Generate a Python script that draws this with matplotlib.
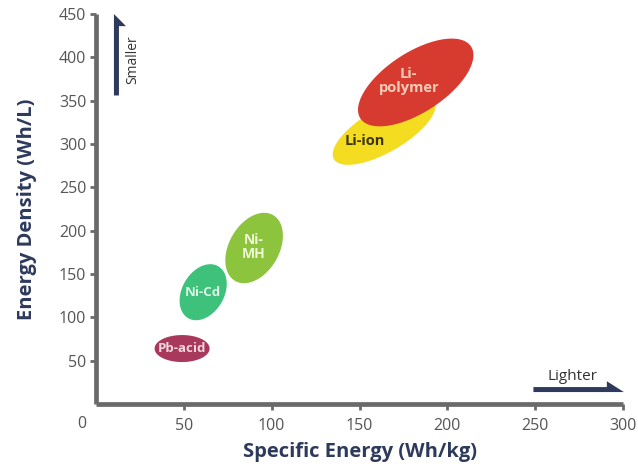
import numpy as np
import matplotlib.pyplot as plt

# battery chemistries: centre (Wh/kg, Wh/L), size in px (major, minor), tilt in degrees
names = ["Pb-acid", "Ni-Cd", "Ni-MH", "Li-ion", "Li-polymer"]
labels = ["Pb-acid", "Ni-Cd", "Ni-\nMH", "Li-ion", "Li-\npolymer"]
spec_energy = [49, 61, 90, 164, 182]
energy_dens = [64, 129, 180, 316, 371]
major_px = [55, 60, 76, 116, 132]
minor_px = [27, 42, 50, 44, 60]
tilt_deg = [0, 60, 60, 30, 33]
colors = ["#a8385c", "#3ec27b", "#8dc43d", "#f4dc20", "#d73b30"]
text_colors = ["#f6d6e0", "#dff7ea", "#f0f8d8", "#3a3510", "#f7cdb8"]
label_size = [9.5, 9.5, 10, 10.5, 10.5]
label_x = [49, 61, 90, 153, 178]
label_y = [64, 129, 181, 304, 373]

xticks = [50, 100, 150, 200, 250, 300]
yticks = [50, 100, 150, 200, 250, 300, 350, 400, 450]

navy = "#2d3a5c"
grey = "#6a6a6a"
plt.rcParams['font.family'] = ['Open Sans', 'DejaVu Sans']

fig = plt.figure(figsize=(6.38, 4.70), dpi=100)
ax = fig.add_axes([0.1505, 0.1404, 0.826, 0.8298])
ax.set_xlim(0, 300)
ax.set_ylim(0, 450)

# pixels per data unit, so the ellipses keep their on-screen shape
p0 = ax.transData.transform((0, 0))
p1 = ax.transData.transform((1, 1))
sx, sy = p1 - p0

t = np.linspace(0, 2 * np.pi, 200)
for i in range(len(names)):
    a = major_px[i] / 2
    b = minor_px[i] / 2
    th = np.radians(tilt_deg[i])
    u = a * np.cos(t)
    v = b * np.sin(t)
    xs = spec_energy[i] + (u * np.cos(th) - v * np.sin(th)) / sx
    ys = energy_dens[i] + (u * np.sin(th) + v * np.cos(th)) / sy
    ax.fill(xs, ys, color=colors[i], lw=0, zorder=2 + i)
    ax.text(label_x[i], label_y[i], labels[i],
            ha="center", va="center", color=text_colors[i],
            fontsize=label_size[i], fontweight="bold", linespacing=1.0,
            zorder=10)

for s in ["top", "right"]:
    ax.spines[s].set_visible(False)
for s in ["left", "bottom"]:
    ax.spines[s].set_color(grey)
    ax.spines[s].set_linewidth(3.4)
    ax.spines[s].set_capstyle("butt")

ax.set_xticks(xticks)
ax.set_yticks(yticks)
ax.tick_params(axis="both", colors=grey, width=2, length=4, labelsize=11.5,
               labelcolor="#555555")
ax.tick_params(axis="x", pad=6)
ax.tick_params(axis="y", pad=3)
ax.text(-8, -14, "0", ha="center", va="top", fontsize=11.5, color="#555555")

ax.set_xlabel("Specific Energy (Wh/kg)", fontsize=14.5, fontweight="bold",
              color=navy, labelpad=6)
ax.set_ylabel("Energy Density (Wh/L)", fontsize=14.5, fontweight="bold",
              color=navy, labelpad=16)

# direction hints (half-arrows: shaft and head sit on one side of the line)
ax.arrow(10.2, 356, 0, 94, width=5.7, head_width=13.7, head_length=14,
         shape="left", length_includes_head=True, color=navy, lw=0,
         clip_on=False, zorder=5)
ax.text(21, 397, "Smaller", rotation=90, ha="center", va="center",
        fontsize=10, color="#333333")
ax.arrow(249, 13.8, 51.5, 0, width=11.5, head_width=25, head_length=9.7,
         shape="right", length_includes_head=True, color=navy, lw=0,
         clip_on=False, zorder=5)
ax.text(271, 32, "Lighter", ha="center", va="center", fontsize=11,
        color="#333333")

fig.savefig("out.png", dpi=100)
